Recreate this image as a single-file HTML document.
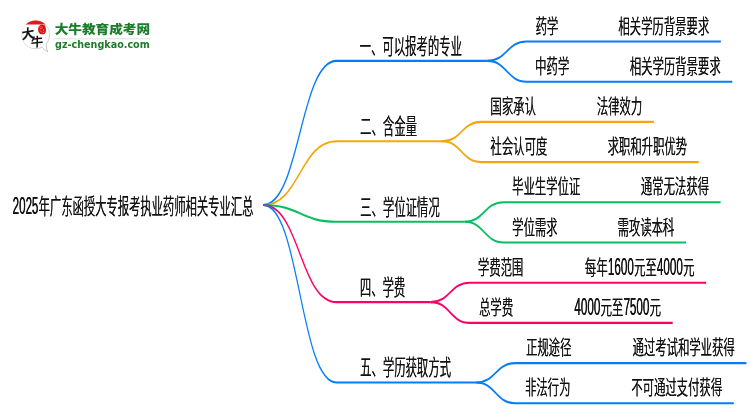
<!DOCTYPE html>
<html lang="zh-CN"><head><meta charset="utf-8"><title>2025年广东函授大专报考执业药师相关专业汇总</title>
<style>
html,body{margin:0;padding:0;background:#fff;}
body{width:750px;height:410px;overflow:hidden;}
svg{display:block;will-change:transform;}
.mm text{font-family:"Liberation Sans","Noto Sans CJK SC",sans-serif;font-size:21.3px;font-weight:350;fill:#111;}
.mm text.dg{font-size:24.0px;}
.mm text.t.rt{font-size:21.6px;}
.mm text.t.ch{font-size:20.6px;}
.mm path{fill:none;stroke-width:2.1;stroke-linecap:butt;stroke-linejoin:round;}
</style></head><body>
<svg width="750" height="410" viewBox="0 0 750 410">
<rect width="750" height="410" fill="#fff"/>
<g class="mm" transform="scale(0.5675,1)">
<path d="M463.79,205.00C528.37,205.00 528.37,60.90 592.95,60.90H858.94" stroke="#057cfa"/>
<path d="M858.94,60.90C893.30,60.90 893.30,41.50 927.67,41.50H1270.22" stroke="#057cfa"/>
<path d="M858.94,60.90C893.30,60.90 893.30,81.70 927.67,81.70H1290.40" stroke="#057cfa"/>
<path d="M463.79,205.00C528.37,205.00 528.37,141.30 592.95,141.30H778.94" stroke="#f4a60a"/>
<path d="M778.94,141.30C813.30,141.30 813.30,121.90 847.67,121.90H1152.16" stroke="#f4a60a"/>
<path d="M778.94,141.30C813.30,141.30 813.30,162.10 847.67,162.10H1231.28" stroke="#f4a60a"/>
<path d="M463.79,205.00C528.37,205.00 528.37,221.70 592.95,221.70H818.94" stroke="#08bd62"/>
<path d="M818.94,221.70C853.30,221.70 853.30,202.30 887.67,202.30H1269.87" stroke="#08bd62"/>
<path d="M818.94,221.70C853.30,221.70 853.30,242.50 887.67,242.50H1208.81" stroke="#08bd62"/>
<path d="M463.79,205.00C528.37,205.00 528.37,302.10 592.95,302.10H758.94" stroke="#fc0068"/>
<path d="M758.94,302.10C793.30,302.10 793.30,282.70 827.67,282.70H1244.32" stroke="#fc0068"/>
<path d="M758.94,302.10C793.30,302.10 793.30,322.90 827.67,322.90H1185.37" stroke="#fc0068"/>
<path d="M463.79,205.00C528.37,205.00 528.37,382.50 592.95,382.50H838.94" stroke="#057cfa"/>
<path d="M838.94,382.50C873.30,382.50 873.30,363.10 907.67,363.10H1315.33" stroke="#057cfa"/>
<path d="M838.94,382.50C873.30,382.50 873.30,403.30 907.67,403.30H1293.04" stroke="#057cfa"/>
<g>
<text class="dg rt" x="22.11" y="213.80" textLength="45.43" lengthAdjust="spacingAndGlyphs">2025</text>
<text class="t rt" x="67.98" y="213.80" textLength="378.29" lengthAdjust="spacingAndGlyphs">年广东函授大专报考执业药师相关专业汇总</text>
<text class="t" x="633.66" y="53.80" textLength="180.00" lengthAdjust="spacingAndGlyphs">一、可以报考的专业</text>
<text class="t ch" x="943.52" y="33.70" textLength="40.00" lengthAdjust="spacingAndGlyphs">药学</text>
<text class="t ch" x="1089.43" y="33.70" textLength="160.00" lengthAdjust="spacingAndGlyphs">相关学历背景要求</text>
<text class="t ch" x="942.64" y="73.90" textLength="60.00" lengthAdjust="spacingAndGlyphs">中药学</text>
<text class="t ch" x="1109.60" y="73.90" textLength="160.00" lengthAdjust="spacingAndGlyphs">相关学历背景要求</text>
<text class="t" x="634.54" y="134.20" textLength="100.00" lengthAdjust="spacingAndGlyphs">二、含金量</text>
<text class="t ch" x="864.05" y="114.10" textLength="80.00" lengthAdjust="spacingAndGlyphs">国家承认</text>
<text class="t ch" x="1051.37" y="114.10" textLength="80.00" lengthAdjust="spacingAndGlyphs">法律效力</text>
<text class="t ch" x="864.05" y="154.30" textLength="100.00" lengthAdjust="spacingAndGlyphs">社会认可度</text>
<text class="t ch" x="1070.48" y="154.30" textLength="140.00" lengthAdjust="spacingAndGlyphs">求职和升职优势</text>
<text class="t" x="634.54" y="214.60" textLength="140.00" lengthAdjust="spacingAndGlyphs">三、学位证情况</text>
<text class="t ch" x="902.29" y="194.50" textLength="120.00" lengthAdjust="spacingAndGlyphs">毕业生学位证</text>
<text class="t ch" x="1129.07" y="194.50" textLength="120.00" lengthAdjust="spacingAndGlyphs">通常无法获得</text>
<text class="t ch" x="902.29" y="234.70" textLength="80.00" lengthAdjust="spacingAndGlyphs">学位需求</text>
<text class="t ch" x="1088.02" y="234.70" textLength="100.00" lengthAdjust="spacingAndGlyphs">需攻读本科</text>
<text class="t" x="634.01" y="295.00" textLength="80.00" lengthAdjust="spacingAndGlyphs">四、学费</text>
<text class="t ch" x="841.94" y="274.90" textLength="80.00" lengthAdjust="spacingAndGlyphs">学费范围</text>
<text class="t ch" x="1030.48" y="274.90" textLength="40.00" lengthAdjust="spacingAndGlyphs">每年</text>
<text class="dg ch" x="1070.93" y="274.90" textLength="45.64" lengthAdjust="spacingAndGlyphs">1600</text>
<text class="t ch" x="1117.00" y="274.90" textLength="40.00" lengthAdjust="spacingAndGlyphs">元至</text>
<text class="dg ch" x="1157.44" y="274.90" textLength="45.64" lengthAdjust="spacingAndGlyphs">4000</text>
<text class="t ch" x="1203.52" y="274.90" textLength="20.00" lengthAdjust="spacingAndGlyphs">元</text>
<text class="t ch" x="844.05" y="315.10" textLength="60.00" lengthAdjust="spacingAndGlyphs">总学费</text>
<text class="dg ch" x="1011.98" y="315.10" textLength="45.64" lengthAdjust="spacingAndGlyphs">4000</text>
<text class="t ch" x="1058.06" y="315.10" textLength="40.00" lengthAdjust="spacingAndGlyphs">元至</text>
<text class="dg ch" x="1098.50" y="315.10" textLength="45.64" lengthAdjust="spacingAndGlyphs">7500</text>
<text class="t ch" x="1144.58" y="315.10" textLength="20.00" lengthAdjust="spacingAndGlyphs">元</text>
<text class="t" x="634.54" y="375.40" textLength="160.00" lengthAdjust="spacingAndGlyphs">五、学历获取方式</text>
<text class="t ch" x="926.70" y="355.30" textLength="80.00" lengthAdjust="spacingAndGlyphs">正规途径</text>
<text class="t ch" x="1114.54" y="355.30" textLength="180.00" lengthAdjust="spacingAndGlyphs">通过考试和学业获得</text>
<text class="t ch" x="924.93" y="395.50" textLength="80.00" lengthAdjust="spacingAndGlyphs">非法行为</text>
<text class="t ch" x="1112.25" y="395.50" textLength="160.00" lengthAdjust="spacingAndGlyphs">不可通过支付获得</text>
</g>
<g transform="translate(0.441,0)" aria-hidden="true">
<text class="dg rt" x="22.11" y="213.80" textLength="45.43" lengthAdjust="spacingAndGlyphs">2025</text>
<text class="t rt" x="67.98" y="213.80" textLength="378.29" lengthAdjust="spacingAndGlyphs">年广东函授大专报考执业药师相关专业汇总</text>
<text class="t" x="633.66" y="53.80" textLength="180.00" lengthAdjust="spacingAndGlyphs">一、可以报考的专业</text>
<text class="t ch" x="943.52" y="33.70" textLength="40.00" lengthAdjust="spacingAndGlyphs">药学</text>
<text class="t ch" x="1089.43" y="33.70" textLength="160.00" lengthAdjust="spacingAndGlyphs">相关学历背景要求</text>
<text class="t ch" x="942.64" y="73.90" textLength="60.00" lengthAdjust="spacingAndGlyphs">中药学</text>
<text class="t ch" x="1109.60" y="73.90" textLength="160.00" lengthAdjust="spacingAndGlyphs">相关学历背景要求</text>
<text class="t" x="634.54" y="134.20" textLength="100.00" lengthAdjust="spacingAndGlyphs">二、含金量</text>
<text class="t ch" x="864.05" y="114.10" textLength="80.00" lengthAdjust="spacingAndGlyphs">国家承认</text>
<text class="t ch" x="1051.37" y="114.10" textLength="80.00" lengthAdjust="spacingAndGlyphs">法律效力</text>
<text class="t ch" x="864.05" y="154.30" textLength="100.00" lengthAdjust="spacingAndGlyphs">社会认可度</text>
<text class="t ch" x="1070.48" y="154.30" textLength="140.00" lengthAdjust="spacingAndGlyphs">求职和升职优势</text>
<text class="t" x="634.54" y="214.60" textLength="140.00" lengthAdjust="spacingAndGlyphs">三、学位证情况</text>
<text class="t ch" x="902.29" y="194.50" textLength="120.00" lengthAdjust="spacingAndGlyphs">毕业生学位证</text>
<text class="t ch" x="1129.07" y="194.50" textLength="120.00" lengthAdjust="spacingAndGlyphs">通常无法获得</text>
<text class="t ch" x="902.29" y="234.70" textLength="80.00" lengthAdjust="spacingAndGlyphs">学位需求</text>
<text class="t ch" x="1088.02" y="234.70" textLength="100.00" lengthAdjust="spacingAndGlyphs">需攻读本科</text>
<text class="t" x="634.01" y="295.00" textLength="80.00" lengthAdjust="spacingAndGlyphs">四、学费</text>
<text class="t ch" x="841.94" y="274.90" textLength="80.00" lengthAdjust="spacingAndGlyphs">学费范围</text>
<text class="t ch" x="1030.48" y="274.90" textLength="40.00" lengthAdjust="spacingAndGlyphs">每年</text>
<text class="dg ch" x="1070.93" y="274.90" textLength="45.64" lengthAdjust="spacingAndGlyphs">1600</text>
<text class="t ch" x="1117.00" y="274.90" textLength="40.00" lengthAdjust="spacingAndGlyphs">元至</text>
<text class="dg ch" x="1157.44" y="274.90" textLength="45.64" lengthAdjust="spacingAndGlyphs">4000</text>
<text class="t ch" x="1203.52" y="274.90" textLength="20.00" lengthAdjust="spacingAndGlyphs">元</text>
<text class="t ch" x="844.05" y="315.10" textLength="60.00" lengthAdjust="spacingAndGlyphs">总学费</text>
<text class="dg ch" x="1011.98" y="315.10" textLength="45.64" lengthAdjust="spacingAndGlyphs">4000</text>
<text class="t ch" x="1058.06" y="315.10" textLength="40.00" lengthAdjust="spacingAndGlyphs">元至</text>
<text class="dg ch" x="1098.50" y="315.10" textLength="45.64" lengthAdjust="spacingAndGlyphs">7500</text>
<text class="t ch" x="1144.58" y="315.10" textLength="20.00" lengthAdjust="spacingAndGlyphs">元</text>
<text class="t" x="634.54" y="375.40" textLength="160.00" lengthAdjust="spacingAndGlyphs">五、学历获取方式</text>
<text class="t ch" x="926.70" y="355.30" textLength="80.00" lengthAdjust="spacingAndGlyphs">正规途径</text>
<text class="t ch" x="1114.54" y="355.30" textLength="180.00" lengthAdjust="spacingAndGlyphs">通过考试和学业获得</text>
<text class="t ch" x="924.93" y="395.50" textLength="80.00" lengthAdjust="spacingAndGlyphs">非法行为</text>
<text class="t ch" x="1112.25" y="395.50" textLength="160.00" lengthAdjust="spacingAndGlyphs">不可通过支付获得</text>
</g>
</g>
<g class="logo">
<defs>
<clipPath id="capclip"><rect x="18" y="16" width="36" height="8.4"/></clipPath>
<linearGradient id="bub" x1="0" y1="0" x2="1" y2="1"><stop offset="0" stop-color="#efefef"/><stop offset="1" stop-color="#b4b4b4"/></linearGradient>
</defs>
<path d="M42.17,47.16A14,14 0 1 1 46.32,43.8Q46.2,48.4 47.7,51.9Q44.6,50.4 42.17,47.16Z" fill="#fff" stroke="url(#bub)" stroke-width="0.8" stroke-linejoin="round"/>
<circle cx="35.6" cy="34.8" r="14.2" fill="#df1a1a" clip-path="url(#capclip)"/>
<text x="0" y="0" font-family="'Noto Sans CJK SC','Liberation Sans',sans-serif" font-weight="700" font-size="13" fill="#111" transform="translate(21.8,39.4) rotate(-10) skewX(-8)">大</text>
<text x="0" y="0" font-family="'Noto Sans CJK SC','Liberation Sans',sans-serif" font-weight="700" font-size="12.5" fill="#111" transform="translate(30.8,47.0) rotate(-5) skewX(-6)">牛</text>
<path d="M40.2,25.1Q42.4,24.3 44.6,25.3Q46.2,27.2 46.0,29.8Q46.1,32.6 44.6,33.9Q42.2,34.8 39.9,33.8Q37.9,32.0 38.1,29.4Q37.9,26.5 40.2,25.1Z" fill="#dc1212"/>
<g fill="#f7b9b4" opacity="0.85"><rect x="39.3" y="26.6" width="1.5" height="0.7"/><rect x="40.0" y="28.3" width="2.2" height="0.6"/><rect x="43.2" y="29.4" width="0.7" height="1.8"/><rect x="40.6" y="30.6" width="0.7" height="1.4"/><rect x="42.4" y="32.2" width="1.6" height="0.6"/><rect x="41.6" y="26.4" width="0.6" height="1.3"/></g>
<text x="54.7" y="34.3" font-family="'Liberation Sans','Noto Sans CJK SC',sans-serif" font-weight="900" font-size="12.3" fill="#1c7c2c" textLength="95.4" lengthAdjust="spacingAndGlyphs">大牛教育成考网</text>
<rect x="54" y="38.4" width="96.5" height="0.9" fill="#cfe3d2"/>
<text x="55.1" y="48.3" font-family="'DejaVu Sans','Liberation Sans',sans-serif" font-weight="700" font-size="10.2" fill="#1c7c2c" textLength="94.6" lengthAdjust="spacingAndGlyphs">gz-chengkao.com</text>
</g>

</svg>
</body></html>
